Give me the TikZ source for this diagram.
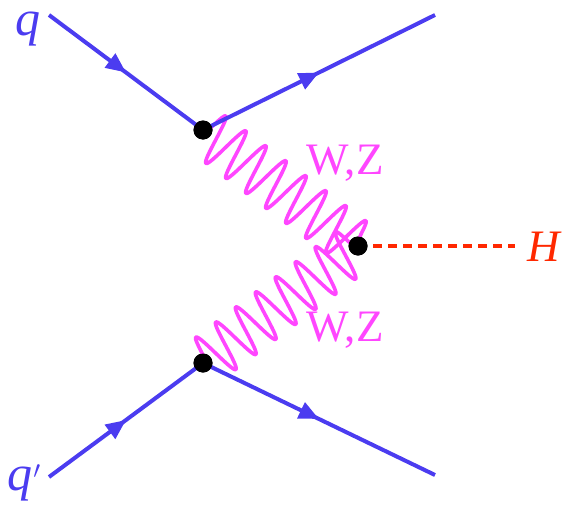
\documentclass[tikz,border=0pt]{standalone}
\usepackage{fontspec}
\setmainfont{Liberation Serif}
\usetikzlibrary{decorations.markings,decorations.pathmorphing,arrows.meta}
\definecolor{fblue}{RGB}{75,60,240}
\definecolor{bmag}{RGB}{255,70,255}
\definecolor{hred}{RGB}{255,40,0}
\tikzset{
  fermion/.style={draw=fblue,line width=4pt,postaction={decorate},
    decoration={markings,mark=at position 0.5 with {\arrow{Triangle[length=20pt,width=17pt]}}}},
  boson/.style={draw=bmag,line width=3.6pt,line join=round,
    decorate,decoration={snake,segment length=25pt,amplitude=25pt,pre length=2pt,post length=0pt}},
  higgs/.style={draw=hred,line width=3.5pt,dash pattern=on 9pt off 6pt},
  vtx/.style={circle,fill=black,inner sep=0pt,minimum size=19pt},
  lbl/.style={font=\fontsize{45}{45}\selectfont},
  biglbl/.style={font=\fontsize{50}{50}\selectfont,inner sep=0pt,anchor=base,text height=24pt,text depth=12pt},
}
\begin{document}
\begin{tikzpicture}[x=1pt,y=-1pt]
\useasboundingbox (0,0) rectangle (562,506);
\coordinate (a) at (49,15);
\coordinate (b) at (435,15);
\coordinate (c) at (49,477);
\coordinate (d) at (435,475);
\coordinate (hend) at (515,246);
\node[vtx] (v1) at (203,130) {};
\node[vtx] (v2) at (203,363) {};
\node[vtx] (vh) at (358,246) {};
\draw[boson] (v1.center) -- (vh.center);
\draw[boson] (v2.center) -- (vh.center);
\draw[fermion] (a) -- (v1.center);
\draw[fermion] (v1.center) -- (b);
\draw[fermion] (c) -- (v2.center);
\draw[fermion] (v2.center) -- (d);
\draw[higgs] (vh.center) -- (hend);
\node[vtx] at (v1) {};
\node[vtx] at (v2) {};
\node[vtx] at (vh) {};
\node[biglbl,text=fblue] (lq) at (28,35) {\itshape q};
\node[biglbl,text=fblue] (lqp) at (24,490) {\itshape q\kern1pt\raisebox{2pt}{$'$}};
\node[lbl,text=hred] (lh) at (544,247) {\itshape H};
\node[lbl,text=bmag] (lw1) at (345,163) {W,Z};
\node[lbl,text=bmag] (lw2) at (345,330) {W,Z};
\end{tikzpicture}
\end{document}
